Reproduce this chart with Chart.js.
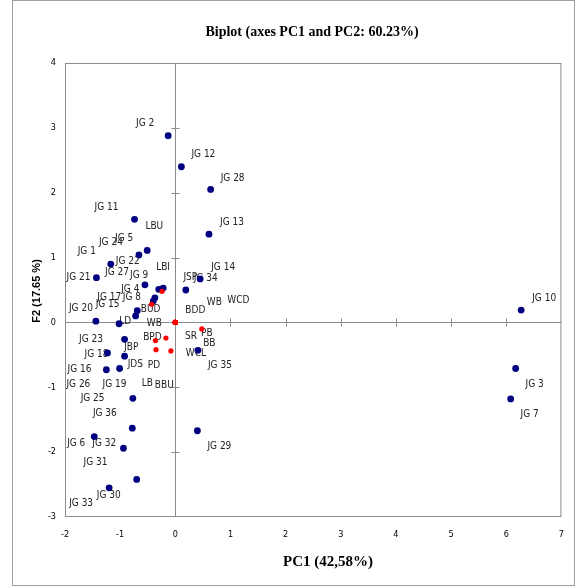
<!DOCTYPE html>
<html>
<head>
<meta charset="utf-8">
<script src="https://cdn.jsdelivr.net/npm/chart.js@4.4.1/dist/chart.umd.min.js"></script>
<style>
html, body { margin: 0; padding: 0; background: #fff; }
</style>
</head>
<body>
<canvas id="biplot" width="576" height="586"></canvas>
<script>
// observations (genotypes)
var genotypes = ['JG 1','JG 2','JG 3','JG 4','JG 5','JG 6','JG 7','JG 8','JG 9','JG 10',
	'JG 11','JG 12','JG 13','JG 14','JG 15','JG 16','JG 17','JG 18','JG 19','JG 20',
	'JG 21','JG 22','JG 23','JG 24','JG 25','JG 26','JG 27','JG 28','JG 29','JG 30',
	'JG 31','JG 32','JG 33','JG 34','JG 35','JG 36'];
var genoPC1 = [-1.17, -0.13, 6.17, -0.40, -0.51, -1.47, 6.08, -0.37, -0.22, 6.27,
	-0.74, 0.11, 0.61, 0.45, -0.72, -1.23, -0.69, -0.92, -0.92, -1.44,
	-1.43, -0.30, -1.02, -0.66, -1.01, -1.25, -0.55, 0.64, 0.40, -0.70,
	-0.94, -0.78, -1.20, 0.19, 0.41, -0.77];
var genoPC2 = [0.90, 2.88, -0.71, 0.33, 1.11, -1.76, -1.18, 0.38, 0.53, 0.19,
	1.59, 2.40, 1.36, 0.67, 0.10, -0.47, 0.18, -0.26, -0.52, 0.02,
	0.69, 0.51, -0.02, 1.04, -0.71, -0.73, 0.58, 2.05, -1.67, -2.42,
	-1.94, -1.63, -2.55, 0.50, -0.43, -1.17];

// variables
var variables = ['LBI','BUD','PB','SR','BPD','PD','WCL','LBU','JSP','LD',
	'WB','BDD','WB','WCD','BB','JBP','JDS','LB','BBU'];
var varPC1 = [-0.24, -0.43, 0.48, -0.17, -0.36, -0.35, -0.08, 0, 0, 0,
	0, 0, 0, 0, 0, 0, 0, 0, 0];
var varPC2 = [0.48, 0.28, -0.10, -0.24, -0.28, -0.42, -0.44, 0, 0, 0,
	0, 0, 0, 0, 0, 0, 0, 0, 0];

var xTickMin = -2, xTickMax = 7;
var yTickMin = -3, yTickMax = 4;

// where each label sits relative to its point, in pixels
var genoLabelOffset = [[-24,-13],[-23,-12],[19,16],[-23,-12],[-23,-12],[-18,7],[19,15],[-23,0],[-24,-13],[23,-12],
	[-28,-12],[22,-12],[23,-12],[23,-12],[-28,-12],[-28,16],[-28,-13],[-28,15],[-10,28],[-15,-13],
	[-18,0],[-31,-28],[-28,16],[-28,-13],[-27,30],[-28,15],[-28,-12],[22,-11],[22,16],[-28,16],
	[-28,14],[-28,15],[-28,16],[20,-12],[22,15],[-28,15]];
var varLabelOffset = [[1,-24],[-1,5],[5,4],[25,-2],[-3,-3],[-2,16],[25,2],[-21,-96],[15,-45],[-50,-1],
	[-21,1],[20,-12],[39,-20],[63,-22],[34,21],[-44,25],[-40,42],[-28,61],[-11,63]];

var labelFont = "10px 'Liberation Sans Narrow', 'DejaVu Sans Condensed', sans-serif";
var axisGrey = '#8c8c8c';

function toPoints(xs, ys) {
	var pts = [];
	for (var i = 0; i < xs.length; i++) {
		pts.push({x: xs[i], y: ys[i]});
	}
	return pts;
}

function drawLabels(ctx, meta, names, offsets) {
	meta.data.forEach(function(el, i) {
		ctx.fillText(names[i], el.x + offsets[i][0], el.y + offsets[i][1]);
	});
}

var biplotDecor = {
	id: 'biplotDecor',
	beforeDatasetsDraw: function(chart) {
		var ctx = chart.ctx;
		var area = chart.chartArea;
		var xs = chart.scales.x, ys = chart.scales.y;
		var x0 = Math.round(xs.getPixelForValue(0)) + 0.5;
		var y0 = Math.round(ys.getPixelForValue(0)) + 0.5;

		ctx.save();
		ctx.strokeStyle = axisGrey;
		ctx.lineWidth = 1;
		ctx.strokeRect(area.left + 0.5, area.top + 0.5, area.right - area.left - 1, area.bottom - area.top - 1);

		ctx.beginPath();
		ctx.moveTo(x0, area.top);
		ctx.lineTo(x0, area.bottom);
		ctx.moveTo(area.left, y0);
		ctx.lineTo(area.right, y0);
		for (var v = xTickMin + 1; v < xTickMax; v++) {
			var px = Math.round(xs.getPixelForValue(v)) + 0.5;
			ctx.moveTo(px, y0 - 4);
			ctx.lineTo(px, y0 + 4);
		}
		for (var w = yTickMin + 1; w < yTickMax; w++) {
			var py = Math.round(ys.getPixelForValue(w)) + 0.5;
			ctx.moveTo(x0 - 4, py);
			ctx.lineTo(x0 + 4, py);
		}
		ctx.stroke();

		ctx.font = labelFont;
		ctx.fillStyle = '#222';
		ctx.textAlign = 'center';
		ctx.textBaseline = 'middle';
		drawLabels(ctx, chart.getDatasetMeta(1), genotypes, genoLabelOffset);
		drawLabels(ctx, chart.getDatasetMeta(0), variables, varLabelOffset);
		ctx.restore();
	},
	afterDraw: function(chart) {
		var ctx = chart.ctx;
		ctx.save();
		ctx.strokeStyle = '#a0a0a0';
		ctx.lineWidth = 1;
		ctx.strokeRect(12.5, 0.5, 562, 585);

		ctx.fillStyle = '#000';
		ctx.textAlign = 'center';
		ctx.textBaseline = 'middle';
		ctx.font = "bold 14px 'Liberation Serif', serif";
		ctx.fillText('Biplot (axes PC1 and PC2: 60.23%)', 312, 32);
		ctx.font = "bold 15px 'Liberation Serif', serif";
		ctx.fillText('PC1 (42,58%)', 328, 562);

		ctx.translate(37, 291);
		ctx.rotate(-Math.PI / 2);
		ctx.font = "bold 11px 'Liberation Sans', sans-serif";
		ctx.fillText('F2 (17.65 %)', 0, 0);
		ctx.restore();
	}
};

var tickFont = { family: "'Liberation Sans Narrow', 'DejaVu Sans Condensed', sans-serif", size: 9 };

new Chart(document.getElementById('biplot'), {
	type: 'scatter',
	data: {
		datasets: [{
			label: 'Variables',
			data: toPoints(varPC1, varPC2),
			backgroundColor: '#ff0000',
			borderWidth: 0,
			pointRadius: 2.6,
			pointHoverRadius: 2.6
		}, {
			label: 'Observations',
			data: toPoints(genoPC1, genoPC2),
			backgroundColor: '#000080',
			borderWidth: 0,
			pointRadius: 3.4,
			pointHoverRadius: 3.4
		}]
	},
	options: {
		responsive: false,
		animation: false,
		devicePixelRatio: 1,
		layout: { padding: { left: 0, top: 63, right: 13, bottom: 0 } },
		plugins: {
			legend: { display: false },
			tooltip: { enabled: false },
			title: { display: false }
		},
		scales: {
			x: {
				type: 'linear',
				min: xTickMin,
				max: xTickMax,
				grid: { display: false, drawTicks: false },
				border: { display: false },
				ticks: { stepSize: 1, font: tickFont, color: '#000', padding: 12 },
				afterFit: function(scale) { scale.height = 69; }
			},
			y: {
				type: 'linear',
				min: yTickMin,
				max: yTickMax,
				grid: { display: false, drawTicks: false },
				border: { display: false },
				ticks: { stepSize: 1, font: tickFont, color: '#000', padding: 9 },
				afterFit: function(scale) { scale.width = 65; }
			}
		}
	},
	plugins: [biplotDecor]
});
</script>
</body>
</html>
